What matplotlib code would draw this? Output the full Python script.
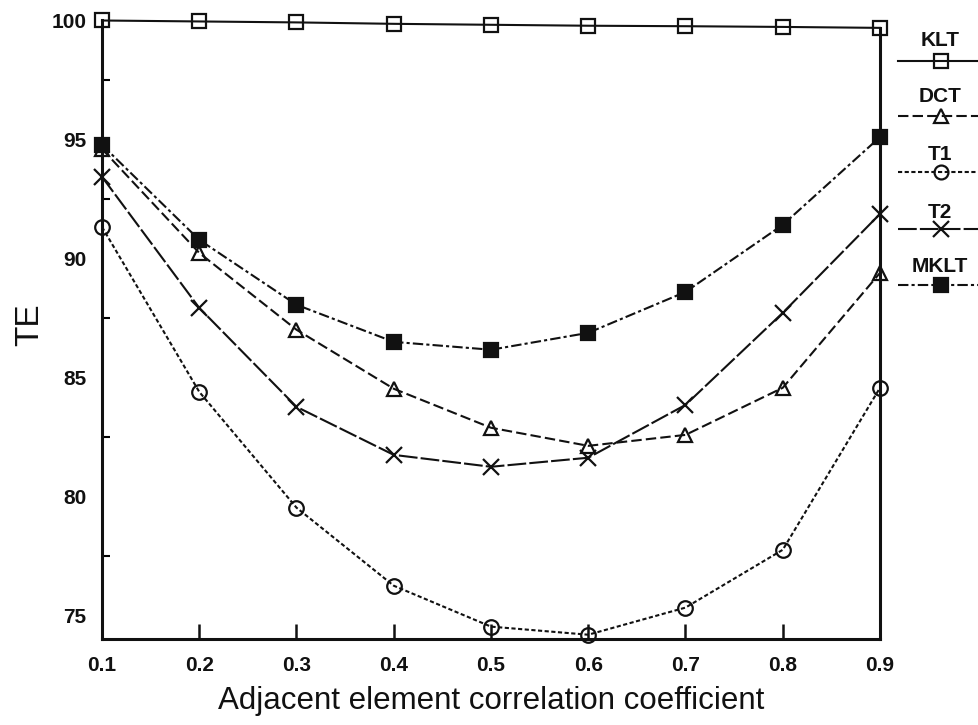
import matplotlib
matplotlib.use("Agg")
import matplotlib.pyplot as plt
from matplotlib.lines import Line2D

plt.rcParams['font.family'] = ['Liberation Sans', 'DejaVu Sans']

# Adjacent element correlation coefficient
rho = [0.1, 0.2, 0.3, 0.4, 0.5, 0.6, 0.7, 0.8, 0.9]

# Transform efficiency (TE) for each transform
klt = [100.0, 99.96, 99.92, 99.86, 99.82, 99.78, 99.76, 99.73, 99.69]
dct = [94.6, 90.23, 87.0, 84.52, 82.88, 82.12, 82.58, 84.56, 89.39]
t1 = [91.32, 84.39, 79.52, 76.24, 74.52, 74.18, 75.32, 77.75, 84.56]
t2 = [93.43, 87.92, 83.76, 81.74, 81.24, 81.62, 83.84, 87.71, 91.87]
mklt = [94.77, 90.78, 88.05, 86.49, 86.16, 86.87, 88.59, 91.41, 95.1]

series_names = ["KLT", "DCT", "T1", "T2", "MKLT"]
x_ticks = [0.1, 0.2, 0.3, 0.4, 0.5, 0.6, 0.7, 0.8, 0.9]
y_ticks = [75, 80, 85, 90, 95, 100]

W, H = 979, 725
fig = plt.figure(figsize=(W / 100, H / 100), dpi=100)
ax = fig.add_axes([102 / W, 1 - 639 / H, (880 - 102) / W, (639 - 20.5) / H])

ink = "#111111"
styles = {
    "KLT": dict(ls="-", marker="s", ms=10, mfc="none"),
    "DCT": dict(ls=(0, (5, 2)), marker="^", ms=10.5, mfc="none"),
    "T1": dict(ls=(0, (2, 1.2)), marker="o", ms=10.5, mfc="none"),
    "T2": dict(ls=(0, (9, 1.5)), marker="x", ms=11.5, mfc="none"),
    "MKLT": dict(ls=(0, (5, 1.5, 1.5, 1.5)), marker="s", ms=10.5, mfc=ink),
}
data = {"KLT": klt, "DCT": dct, "T1": t1, "T2": t2, "MKLT": mklt}

for name in series_names:
    st = styles[name]
    ax.plot(rho, data[name], color=ink, lw=1.5, ls=st["ls"], marker=st["marker"],
            ms=st["ms"], mfc=st["mfc"], mec=ink, mew=1.6, clip_on=False, zorder=3)

ax.set_xlim(0.1, 0.9)
ax.set_ylim(74, 100)
ax.set_xticks(x_ticks)
ax.set_xticklabels([f"{v:.1f}" for v in x_ticks])
ax.set_yticks(y_ticks)
ax.set_yticklabels([str(v) for v in y_ticks])
ax.set_yticks([77.5, 82.5, 87.5, 92.5, 97.5], minor=True)

ax.tick_params(axis="x", direction="in", length=11, width=1.8, pad=12,
               labelsize=15, colors=ink)
ax.tick_params(axis="y", which="major", direction="in", length=0, pad=11,
               labelsize=15, colors=ink)
ax.tick_params(axis="y", which="minor", direction="in", length=6, width=1.5)
for lab in ax.get_xticklabels() + ax.get_yticklabels():
    lab.set_fontweight("bold")

ax.spines["top"].set_visible(False)
for s in ("left", "right", "bottom"):
    ax.spines[s].set_linewidth(2.2)
    ax.spines[s].set_color(ink)
ax.spines["right"].set_bounds(74, klt[-1])

ax.set_xlabel("Adjacent element correlation coefficient", fontsize=22.5, color=ink,
              labelpad=8)
fig.text(30 / W, 1 - 325 / H, "TE", rotation=90, ha="center", va="center",
         fontsize=24, color=ink)

# Key on the right edge: name above a short sample line with its marker
label_y = [40, 97, 155, 212, 267]
line_y = [61, 116, 172, 229, 285]
for name, ly, sy in zip(series_names, label_y, line_y):
    st = styles[name]
    fig.text(940 / W, 1 - ly / H, name, ha="center", va="center", fontsize=15,
             fontweight="bold", color=ink)
    fig.add_artist(Line2D([898 / W, 1.0], [1 - sy / H] * 2, transform=fig.transFigure,
                          color=ink, lw=1.5, ls=st["ls"]))
    fig.add_artist(Line2D([941 / W], [1 - sy / H], transform=fig.transFigure,
                          color=ink, ls="none", marker=st["marker"], ms=st["ms"] - 0.5,
                          mfc=st["mfc"], mec=ink, mew=1.6))

fig.savefig("out.png", dpi=100, facecolor="white")
